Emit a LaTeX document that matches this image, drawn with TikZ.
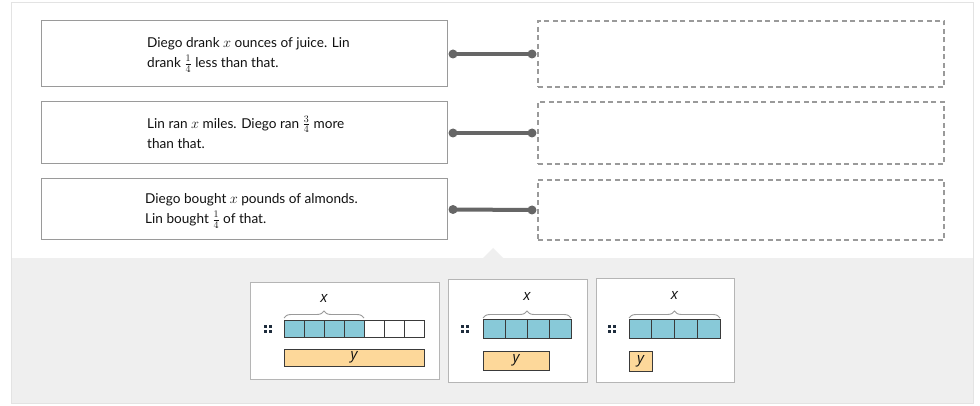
\documentclass[tikz,border=0pt]{standalone}
\usepackage{fontspec}
\setmainfont{Lato}
\setsansfont{Open Sans}
\usetikzlibrary{decorations.pathreplacing}
\definecolor{frameline}{HTML}{E3E3E3}
\definecolor{tray}{HTML}{EFEFEF}
\definecolor{boxline}{HTML}{9A9A9A}
\definecolor{dashline}{HTML}{9A9A9A}
\definecolor{connc}{HTML}{666666}
\definecolor{cardline}{HTML}{B5B5B5}
\definecolor{tapeblue}{HTML}{88C9D8}
\definecolor{tapeyellow}{HTML}{FDD89A}
\definecolor{tapeline}{HTML}{3A3A3A}
\definecolor{handlec}{HTML}{1F2D3D}
\definecolor{txt}{HTML}{111111}
\definecolor{bracec}{HTML}{9A9A9A}
\tikzset{
  x=1pt, y=-1pt,
  leftbox/.style={draw=boxline, line width=1pt, fill=white, minimum width=406pt, inner sep=0pt, outer sep=0pt},
  rightbox/.style={draw=dashline, line width=1.3pt, dash pattern=on 5pt off 3.5pt, minimum width=406pt, inner sep=0pt, outer sep=0pt},
  stmt/.style={anchor=west, inner sep=0pt, align=left, font=\fontsize{13.6}{20}\selectfont, text=txt},
  conn/.style={draw=connc, line width=4pt},
  conndot/.style={fill=connc},
  card/.style={draw=cardline, line width=0.8pt, fill=white, inner sep=0pt, outer sep=0pt},
  bluecell/.style={draw=tapeline, line width=1pt, fill=tapeblue},
  whitecell/.style={draw=tapeline, line width=1pt, fill=white},
  ybar/.style={draw=tapeline, line width=1pt, fill=tapeyellow},
  bracestyle/.style={draw=bracec, line width=0.9pt, decorate, decoration={brace, amplitude=7pt}},
  varlabel/.style={font=\sffamily\itshape\fontsize{15}{16}\selectfont, text=txt, inner sep=0pt},
  handledot/.style={fill=handlec},
}
\newcommand{\handleicon}[2]{%
  \fill[handledot] (#1-4,#2-4) rectangle ++(3,3);
  \fill[handledot] (#1+1,#2-4) rectangle ++(3,3);
  \fill[handledot] (#1-4,#2+1) rectangle ++(3,3);
  \fill[handledot] (#1+1,#2+1) rectangle ++(3,3);
}
\begin{document}
\begin{tikzpicture}
\useasboundingbox (0,0) rectangle (980,406);
% outer frame and tray
\fill[white] (11,2) rectangle (973,403);
\fill[tray] (11,258) rectangle (973,403);
\fill[tray] (482,259) -- (493,248) -- (504,259) -- cycle;
\draw[frameline, line width=0.8pt] (11,2) rectangle (973,403);

% left statement boxes
\node[leftbox, minimum height=66pt] (p1) at (244,54) {};
\node[leftbox, minimum height=62pt] (p2) at (244,133) {};
\node[leftbox, minimum height=61pt] (p3) at (244,209.5) {};

\node[stmt] (t1) at (147,55) {Diego drank $x$ ounces of juice. Lin\\drank $\frac{1}{4}$ less than that.};
\node[stmt] (t2) at (147,132) {Lin ran $x$ miles. Diego ran $\frac{3}{4}$ more\\than that.};
\node[stmt] (t3) at (145,211) {Diego bought $x$ pounds of almonds.\\Lin bought $\frac{1}{4}$ of that.};

% right drop boxes
\node[rightbox, minimum height=66pt] (q1) at (741,54) {};
\node[rightbox, minimum height=62pt] (q2) at (741,133) {};
\node[rightbox, minimum height=60pt] (q3) at (741,210) {};

% connectors
\foreach \i in {1,2,3}{
  \coordinate (a\i) at ([xshift=6pt]p\i.east);
  \coordinate (b\i) at ([xshift=-6pt]q\i.west);
  \draw[conn] (a\i) -- (b\i);
  \fill[conndot] (a\i) circle (4.5pt);
  \fill[conndot] (b\i) circle (4.5pt);
}

% card 1
\node[card, minimum width=189pt, minimum height=97pt] (k1) at (345,330.5) {};
\handleicon{268}{329}
\foreach \j in {0,...,3}{ \draw[bluecell] (284+20*\j,320) rectangle ++(20,17); }
\foreach \j in {4,...,6}{ \draw[whitecell] (284+20*\j,320) rectangle ++(20,17); }
\draw[bracestyle] (284,318) -- (364,318);
\node[varlabel] (x1) at (324,298) {x};
\draw[ybar] (284,349) rectangle (424,366);
\node[varlabel] (y1) at (354,357.5) {y};

% card 2
\node[card, minimum width=139pt, minimum height=103pt] (k2) at (517.5,330.5) {};
\handleicon{465}{329}
\foreach \j in {0,...,3}{ \draw[bluecell] (483+22*\j,319) rectangle ++(22,19); }
\draw[bracestyle] (483,318) -- (571,318);
\node[varlabel] (x2) at (527,296) {x};
\draw[ybar] (483,351) rectangle (549,370);
\node[varlabel] (y2) at (516,360.5) {y};

% card 3
\node[card, minimum width=138pt, minimum height=104pt] (k3) at (665,330) {};
\handleicon{612}{329}
\foreach \j in {0,...,3}{ \draw[bluecell] (629+22.75*\j,319) rectangle ++(22.75,19); }
\draw[bracestyle] (629,318) -- (720,318);
\node[varlabel] (x3) at (674.5,295) {x};
\draw[ybar] (629,351) rectangle (652,371);
\node[varlabel] (y3) at (640.5,361) {y};
\end{tikzpicture}
\end{document}
